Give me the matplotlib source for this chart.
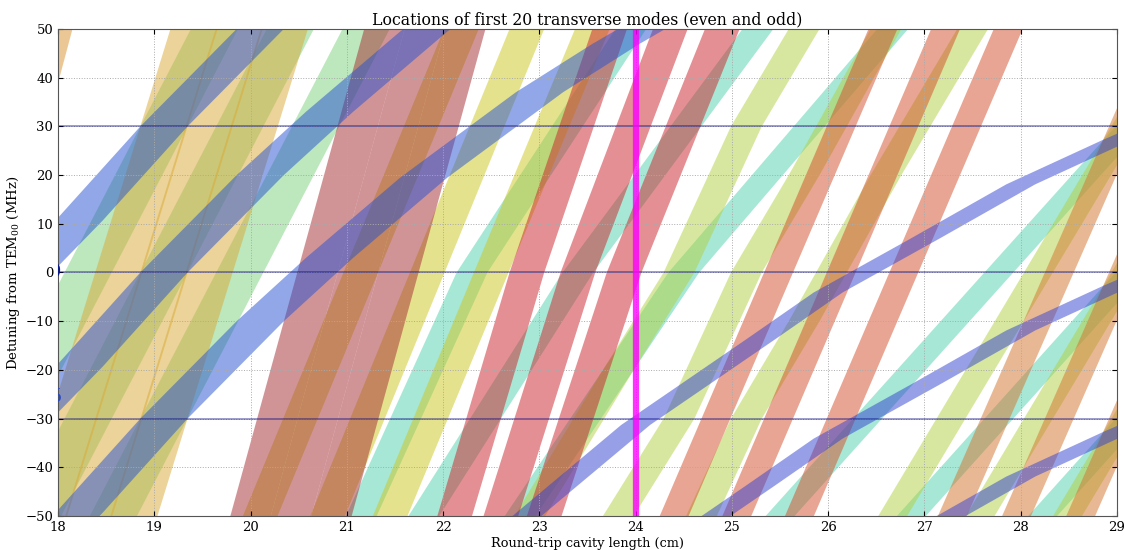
import numpy as np
import matplotlib.pyplot as plt

plt.rcParams['font.family'] = 'DejaVu Serif'
plt.rcParams['mathtext.fontset'] = 'dejavuserif'

# sideband offsets (MHz): each mode branch is drawn at carrier and +/- 30 MHz
sidebands = [-30, 0, 30]

# ---- families through the left degeneracy (L ~ 19.1 cm) ----
tan_x = [17.85, 20.35]
tan_y = [-80, 80]
green_x = [17.0, 21.2]
green_y = [-80, 80]
blue_left_x = [17.2, 18.22, 19.1, 20.1, 20.82, 21.8, 23.0, 23.8, 24.5]
blue_left_y = [-40, -19.3, 0, 20, 33, 49.5, 67, 77, 85]
left_hw = 0.245

# ---- families through the right degeneracy (L ~ 29 cm) ----
blue_right_x = [22.87, 24.0, 25.3, 26.0, 27.0, 28.0, 29.0, 29.5]
blue_right_y = [-80, -61.3, -43.7, -34.1, -23.1, -11.9, -2.8, 1.5]
teal_right_x = [25.5, 29.5]
teal_right_y = [-80, 8]
yg_right_x = [26.67, 29.5]
yg_right_y = [-80, 13.5]
orange_right_x = [27.29, 29.5]
orange_right_y = [-80, 19.5]
right_hw = 0.15

# ---- upper right families ----
salmon_x = [24.4, 27.87]
salmon_y = [-80, 80]
yg_upper_x = [22.9, 23.82, 24.45, 25.15, 25.75, 26.6, 27.5]
yg_upper_y = [-80, -50, -30, 0, 20, 50, 80]

# ---- single bands in the middle ----
# straight bands: x at y=-50 and at y=+50
rose_bottom = [20.0, 20.42, 20.84]
rose_top = [21.39, 21.81, 22.23]
yellow_bottom = [20.1, 20.8, 21.45]
yellow_top = [22.19, 22.87, 23.55]
# bands read at y = -50, 0, 50
mid_y = [-50, 0, 50]
red_x = [[22.12, 22.87, 23.73], [22.6, 23.4, 24.36], [23.05, 23.88, 24.9]]
teal_mid_x = [[21.15, 22.3, 23.95], [21.8, 23.4, 25.27], [22.8, 24.5, 26.67]]

# lone band in the top-left corner
corner_x = [16.6, 17.95]
corner_y = [-50, 50]

col = {
    'tan': '#d9a935', 'green': '#7dd17d', 'blueL': '#2551d1', 'blueR': '#3141d1',
    'rose': '#a32b31', 'yellow': '#cdc71d', 'red': '#cb2129', 'teal': '#51d1ad',
    'yg': '#b1d141', 'salmon': '#d34d29', 'orange': '#d3732d', 'corner': '#d9912d',
}


def band(ax, xs, ys, hw, color, dy=0.0):
    xs = np.asarray(xs, float)
    ys = np.asarray(ys, float) + dy
    px = np.concatenate([xs - hw, (xs + hw)[::-1]])
    py = np.concatenate([ys, ys[::-1]])
    ax.fill(px, py, color=color, alpha=0.5, lw=0)


fig = plt.figure(figsize=(11.25, 5.5), dpi=100)
ax = fig.add_axes([0.0516, 0.0618, 0.9413, 0.8855])

# left side
band(ax, corner_x, corner_y, 0.2, col['corner'])
for off in sidebands:
    band(ax, green_x, green_y, left_hw, col['green'], off)
for off in sidebands:
    band(ax, tan_x, tan_y, left_hw, col['tan'], off)

# middle (light colours first, darker ones on top)
for xs in teal_mid_x:
    band(ax, xs, mid_y, 0.16, col['teal'])
for xb, xt in zip(yellow_bottom, yellow_top):
    band(ax, [xb, xt], [-50, 50], 0.18, col['yellow'])
for off in sidebands:
    band(ax, yg_upper_x, yg_upper_y, 0.16, col['yg'], off)
for xb, xt in zip(rose_bottom, rose_top):
    band(ax, [xb, xt], [-50, 50], 0.21, col['rose'])
for xs in red_x:
    band(ax, xs, mid_y, 0.18, col['red'])
for off in sidebands:
    band(ax, blue_left_x, blue_left_y, left_hw, col['blueL'], off)

# right side
for off in sidebands:
    band(ax, teal_right_x, teal_right_y, right_hw, col['teal'], off)
for off in sidebands:
    band(ax, yg_right_x, yg_right_y, right_hw, col['yg'], off)
for off in sidebands:
    band(ax, salmon_x, salmon_y, right_hw, col['salmon'], off)
for off in sidebands:
    band(ax, orange_right_x, orange_right_y, right_hw, col['orange'], off)
for off in sidebands:
    band(ax, blue_right_x, blue_right_y, right_hw, col['blueR'], off)

# sideband markers and operating point
for yl in sidebands:
    ax.axhline(yl, color='navy', lw=1.1, alpha=0.5)
ax.axvline(24.0, color='magenta', lw=4.5, alpha=0.8)

ax.text(17.97, 0, '0', color='#0a1a8a', fontsize=14, ha='center', va='center', clip_on=True)
ax.text(17.97, -25.5, '5', color='#2a48c0', fontsize=14, ha='center', va='center', clip_on=True)

ax.set_xlim(18, 29)
ax.set_ylim(-50, 50)
ax.set_xticks(range(18, 30))
ax.set_yticks(range(-50, 51, 10))
ax.grid(True, ls=':', color='#aaaaaa', lw=0.7)
ax.tick_params(direction='in', top=True, right=True, labelsize=9.5)
for s in ax.spines.values():
    s.set_color('#555555')

ax.set_title('Locations of first 20 transverse modes (even and odd)', fontsize=11.3, pad=3)
ax.set_xlabel('Round-trip cavity length (cm)', fontsize=9.3, labelpad=2)
ax.set_ylabel('Detuning from TEM$_{00}$ (MHz)', fontsize=9.5, labelpad=2)

fig.savefig('out.png', dpi=100)
